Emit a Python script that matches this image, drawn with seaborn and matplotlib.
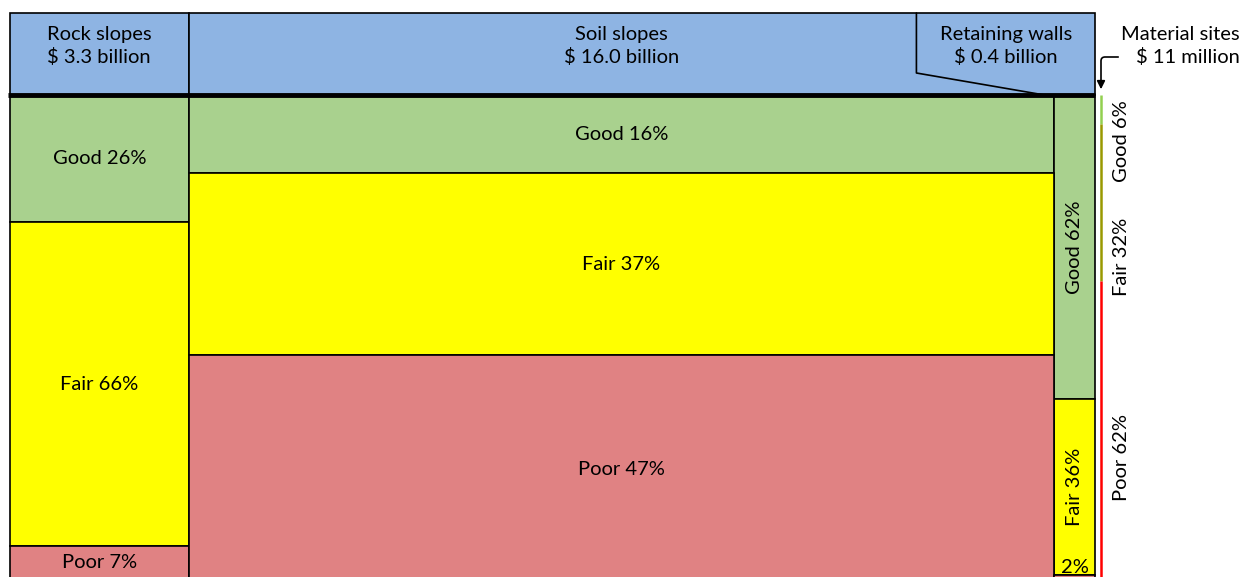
import numpy as np
import pandas as pd
import matplotlib.pyplot as plt
import seaborn as sns
from matplotlib.patches import Rectangle

# asset classes drawn as columns (replacement value, $ billion)
columns = ['Rock slopes', 'Soil slopes', 'Retaining walls']
value_labels = ['$ 3.3 billion', '$ 16.0 billion', '$ 0.4 billion']
values = [3.3, 16.0, 0.4]

conditions = ['Good', 'Fair', 'Poor']
good = [26, 16, 62]
fair = [66, 37, 36]
poor = [7, 47, 2]

# material sites are too small for a column, shown as a line
material_label = 'Material sites\n$ 11 million'
material_pct = [6, 32, 62]

colors = {'Good': '#A9D18E', 'Fair': '#FFFF00', 'Poor': '#E08283'}
line_colors = {'Good': '#92D050', 'Fair': '#999900', 'Poor': '#FF0000'}
header_color = '#8EB4E3'

min_width = 0.75  # keep the narrow column readable

sns.set_theme(style='white')
plt.rcParams['font.family'] = ['Lato', 'DejaVu Sans']
plt.rcParams['text.color'] = 'black'

widths = [max(v, min_width) for v in values]
edges = [0.0] + list(np.cumsum(widths))
centers = [(a + b) / 2 for a, b in zip(edges[:-1], edges[1:])]

rows = []
for i, col in enumerate(columns):
    for cond, pct in zip(conditions, [good[i], fair[i], poor[i]]):
        rows.append({'column': col, 'x': centers[i], 'condition': cond, 'pct': pct})
df = pd.DataFrame(rows)

# page layout in pixels
X0, W_PX, Y0, PPY = 10, 1085, 95, 4.9
ppx = W_PX / edges[-1]


def px_x(p):
    return (p - X0) / ppx


def px_y(p):
    return (p - Y0) / PPY


fig = plt.figure(figsize=(12.46, 5.77), dpi=100)
ax = fig.add_axes([0, 0, 1, 1])

sns.histplot(data=df, x='x', weights='pct', hue='condition',
             hue_order=['Poor', 'Fair', 'Good'], bins=edges,
             multiple='stack', palette=colors, alpha=1,
             edgecolor='black', linewidth=1.2, legend=False, ax=ax)

ax.set_xlim(px_x(0), px_x(1246))
ax.set_ylim(px_y(577), px_y(0))
ax.axis('off')

fs = 14.5
ls = 1.3

# labels inside the columns
for i, col in enumerate(columns):
    pcts = [good[i], fair[i], poor[i]]
    start = 0
    narrow = widths[i] * ppx < 60
    for cond, pct in zip(conditions, pcts):
        mid = start + pct / 2
        if narrow and pct < 5:
            ax.text(centers[i], min(mid, px_y(576)), f'{pct}%', ha='center',
                    va='bottom', fontsize=fs)
        elif narrow:
            ax.text(centers[i], mid, f'{cond} {pct}%', ha='center', va='center',
                    fontsize=fs, rotation=90)
        else:
            ax.text(centers[i], mid, f'{cond} {pct}%', ha='center', va='center', fontsize=fs)
        start += pct

# header boxes
top = px_y(13)
ax.add_patch(Rectangle((edges[0], top), edges[1] - edges[0], -top,
                       facecolor=header_color, edgecolor='black', lw=1.2, zorder=3))
ax.add_patch(Rectangle((edges[1], top), edges[3] - edges[1], -top,
                       facecolor=header_color, edgecolor='black', lw=1.2, zorder=3))
ax.text(centers[0], px_y(46), f'{columns[0]}\n{value_labels[0]}', ha='center',
        va='center', fontsize=fs, zorder=4, linespacing=ls)
ax.text(centers[1], px_y(46), f'{columns[1]}\n{value_labels[1]}', ha='center',
        va='center', fontsize=fs, zorder=4, linespacing=ls)

# callout for retaining walls
call_left = edges[2] - 138 / ppx
ax.plot([call_left, call_left, edges[2] - 10 / ppx], [top, px_y(73), 0],
        color='black', lw=1.2, zorder=4)
ax.text((call_left + edges[3]) / 2, px_y(46), f'{columns[2]}\n{value_labels[2]}',
        ha='center', va='center', fontsize=fs, zorder=4, linespacing=ls)

# thick base line under headers
ax.plot([px_x(8), edges[-1]], [0, 0], color='black', lw=3.5,
        solid_capstyle='butt', zorder=5)

# material sites line
mx = px_x(1101)
start = 0
for cond, pct in zip(conditions, material_pct):
    ax.plot([mx, mx], [start, start + pct], color=line_colors[cond], lw=1.8,
            solid_capstyle='butt')
    start += pct
lx = px_x(1122)
ax.text(lx, 1.0, f'Good {material_pct[0]}%', rotation=90, ha='center', va='top', fontsize=fs)
ax.text(lx, sum(material_pct[:2]) + 3, f'Fair {material_pct[1]}%', rotation=90,
        ha='center', va='bottom', fontsize=fs)
ax.text(lx, sum(material_pct[:2]) + material_pct[2] / 2 + 5, f'Poor {material_pct[2]}%',
        rotation=90, ha='center', va='center', fontsize=fs)

ax.text(px_x(1240), px_y(46), material_label, ha='right', va='center',
        fontsize=fs, linespacing=ls, multialignment='right')
ax.annotate('', xy=(mx, px_y(92)), xytext=(px_x(1121), px_y(57)),
            arrowprops=dict(arrowstyle='-|>', color='black', lw=1.2,
                            connectionstyle='angle,angleA=180,angleB=90,rad=4'))

fig.savefig('out.png', dpi=100)
